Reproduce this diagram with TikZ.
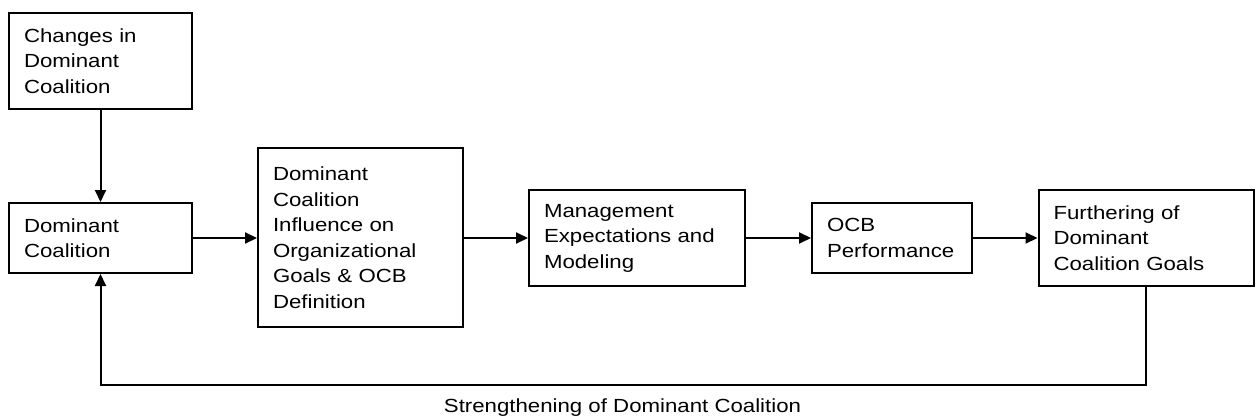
\documentclass[tikz,border=0pt]{standalone}
\usepackage{fontspec}
\setmainfont{Liberation Sans}[FakeStretch=1.17]
\usetikzlibrary{arrows.meta}
\begin{document}
\begin{tikzpicture}[x=1pt,y=-1pt,
  box/.style={draw, line width=2pt, inner xsep=15pt, inner ysep=0pt, align=left,
    font=\fontsize{19}{25.5}\selectfont},
  arr/.style={line width=2pt, -{Triangle[length=12pt,width=11pt]}},
  lbl/.style={font=\fontsize{19}{25.5}\selectfont, inner sep=0pt}]
\useasboundingbox (0,0) rectangle (1256,420);
\node[box, minimum width=183pt, text width=153pt, minimum height=96pt] (b1) at (100.5,61)
  {Changes in\\Dominant\\Coalition};
\node[box, minimum width=183pt, text width=153pt, minimum height=70pt] (b2) at (100.5,238)
  {Dominant\\Coalition};
\node[box, minimum width=205pt, text width=175pt, minimum height=179pt] (b3) at (360.5,237.5)
  {Dominant\\Coalition\\Influence on\\Organizational\\Goals \& OCB\\Definition};
\node[box, minimum width=216pt, text width=186pt, minimum height=96pt] (b4) at (637,238)
  {Management\\Expectations and\\Modeling};
\node[box, minimum width=160pt, text width=130pt, minimum height=70pt] (b5) at (892,238)
  {OCB\\Performance};
\node[box, minimum width=215pt, text width=185pt, minimum height=96pt] (b6) at (1146,238)
  {Furthering of\\Dominant\\Coalition Goals};
\draw[arr] (b1.south) -- (b2.north);
\draw[arr] (b2.east) -- (b3.west |- b2.east);
\draw[arr] (b3.east |- b4.west) -- (b4.west);
\draw[arr] (b4.east) -- (b5.west);
\draw[arr] (b5.east) -- (b6.west);
\coordinate (fb) at (100.5,385);
\draw[arr] (b6.south) |- (fb) -- (b2.south);
\node[lbl, anchor=base] (fbl) at (622.5,412) {Strengthening of Dominant Coalition};
\end{tikzpicture}
\end{document}
